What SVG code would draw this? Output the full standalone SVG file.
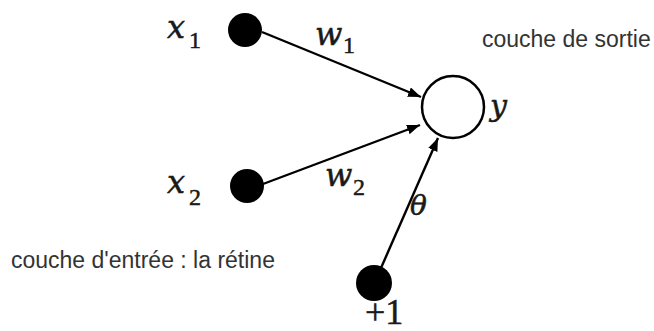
<svg xmlns="http://www.w3.org/2000/svg" width="654" height="331" viewBox="0 0 654 331">
<style>
.dot{fill:#000;}
.out{fill:#fff;stroke:#000;stroke-width:2.5;}
.edge{stroke:#000;stroke-width:2.4;fill:none;marker-end:url(#ah);}
.math{font-family:"DejaVu Serif","Liberation Serif",serif;font-style:italic;fill:#1a1a1a;stroke:#1a1a1a;stroke-width:0.5;}
.num{font-family:"Liberation Serif","DejaVu Serif",serif;fill:#1a1a1a;stroke:#1a1a1a;stroke-width:0.5;}
.lbl{font-family:"Liberation Sans",Arial,sans-serif;font-size:23px;fill:#333;}
</style>
<defs>
<marker id="ah" markerUnits="userSpaceOnUse" markerWidth="14" markerHeight="10" refX="13" refY="5" orient="auto">
<path d="M0,0 L13,5 L0,10 z" fill="#000"/>
</marker>
</defs>
<g id="connectors">
<line class="edge" x1="262" y1="32" x2="421" y2="97"/>
<line class="edge" x1="263" y1="184" x2="420" y2="125"/>
<line class="edge" x1="381" y1="268" x2="438" y2="138"/>
</g>
<g id="x1">
<circle class="dot" cx="245" cy="30" r="17"/>
<text class="math" x="167" y="38" font-size="32">x</text>
<text class="num" x="189" y="48" font-size="24">1</text>
</g>
<g id="x2">
<circle class="dot" cx="247" cy="186" r="17"/>
<text class="math" x="167" y="193" font-size="32">x</text>
<text class="num" x="189" y="205" font-size="24">2</text>
</g>
<g id="bias">
<circle class="dot" cx="374" cy="283" r="18"/>
<text class="num" x="365" y="324" font-size="36">+1</text>
</g>
<g id="output">
<circle class="out" cx="453" cy="107" r="31"/>
<text class="math" x="490" y="116" font-size="30">y</text>
</g>
<g id="weights">
<text class="math" x="315" y="45" font-size="32">w</text>
<text class="num" x="343" y="53" font-size="24">1</text>
<text class="math" x="325" y="186" font-size="32">w</text>
<text class="num" x="353" y="195" font-size="24">2</text>
<text class="math" x="410" y="215" font-size="28">θ</text>
</g>
<text class="lbl" x="482" y="47">couche de sortie</text>
<text class="lbl" x="11" y="268">couche d'entrée : la rétine</text>
</svg>
